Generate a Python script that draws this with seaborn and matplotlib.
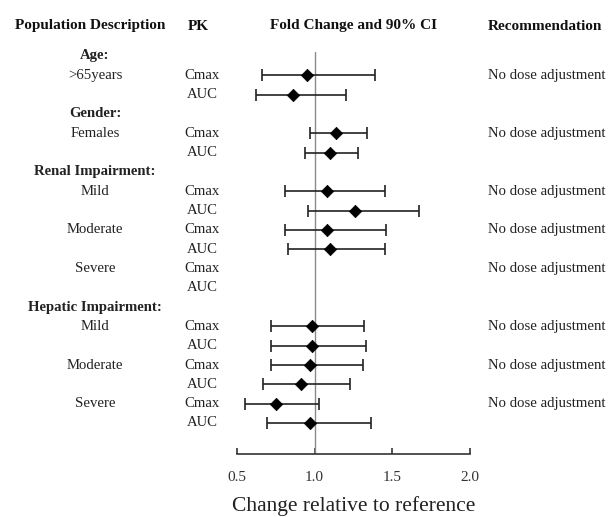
import numpy as np
import matplotlib
matplotlib.use("Agg")
import matplotlib.pyplot as plt
import matplotlib.transforms as mtransforms
import seaborn as sns

# Data
group_names = ["Age:", "Gender:", "Renal Impairment:", "Hepatic Impairment:"]
group_subgroups = [[">65years"], ["Females"], ["Mild", "Moderate", "Severe"], ["Mild", "Moderate", "Severe"]]
pk_params = ["Cmax", "AUC"]
fold_change = [0.95, 0.86, 1.14, 1.10, 1.08, 1.26, 1.08, 1.10, np.nan, np.nan,
               0.98, 0.98, 0.97, 0.91, 0.75, 0.97]
ci_lower = [0.66, 0.62, 0.97, 0.94, 0.81, 0.96, 0.81, 0.83, np.nan, np.nan,
            0.72, 0.72, 0.72, 0.67, 0.55, 0.69]
ci_upper = [1.39, 1.20, 1.34, 1.28, 1.45, 1.67, 1.46, 1.45, np.nan, np.nan,
            1.32, 1.33, 1.31, 1.23, 1.03, 1.36]
recommendations = ["No dose adjustment"] * 8
headers = ["Population Description", "PK", "Fold Change and 90% CI", "Recommendation"]
x_ticks = [0.5, 1.0, 1.5, 2.0]
x_label = "Change relative to reference"

# build row layout: group header row, then one row per PK parameter
group_rows, sub_rows, pk_rows, pk_names = [], [], [], []
row = 0
for g, subs in zip(group_names, group_subgroups):
    group_rows.append((row, g))
    row += 1
    for s in subs:
        sub_rows.append((row, s))
        for p in pk_params:
            pk_rows.append(row)
            pk_names.append(p)
            row += 1
pk_rows = np.array(pk_rows)
fold_change = np.array(fold_change)
ci_lower = np.array(ci_lower)
ci_upper = np.array(ci_upper)

sns.set_style("white")
plt.rcParams["font.family"] = ["Liberation Serif", "DejaVu Serif"]

fig = plt.figure(figsize=(6.16, 5.17), dpi=100)
W, H = 616, 517
ax = fig.add_axes([237 / W, 1 - 454 / H, (470 - 237) / W, (454 - 52) / H])

ax.axvline(1.0, color="#8a8a8a", lw=1.0, zorder=1)
ax.errorbar(fold_change, pk_rows, xerr=[fold_change - ci_lower, ci_upper - fold_change],
            fmt="none", ecolor="#222222", elinewidth=1.2, capsize=4, capthick=1.2, zorder=2)
sns.scatterplot(x=fold_change, y=pk_rows, marker="D", s=40, color="black",
                edgecolor="black", linewidth=0.5, ax=ax, zorder=3)

ax.set_xlim(0.5, 2.0)
ax.set_ylim(20.605, -0.207)
ax.set_yticks([])
ax.set_xticks(x_ticks)
ax.set_xticklabels([f"{t:.1f}" for t in x_ticks])
for side in ["top", "right", "left"]:
    ax.spines[side].set_visible(False)
ax.spines["bottom"].set_color("#333333")
ax.spines["bottom"].set_linewidth(1.2)
ax.tick_params(axis="x", direction="in", length=4.5, width=1.2, color="#333333",
               labelsize=11, labelcolor="#333333", pad=12, bottom=True)
ax.set_xlabel(x_label, fontsize=15.5, color="#222222", labelpad=9)

# text columns outside the axes
tr = mtransforms.blended_transform_factory(fig.transFigure, ax.transData)
for r, g in group_rows:
    ax.text(95 / W, r, g, transform=tr, ha="center", va="center", fontsize=10.6,
            fontweight="bold", color="#222222", clip_on=False)
for (r, s), rec in zip(sub_rows, recommendations):
    ax.text(95 / W, r, s, transform=tr, ha="center", va="center", fontsize=10.6,
            color="#222222", clip_on=False)
    ax.text(488 / W, r, rec, transform=tr, ha="left", va="center", fontsize=10.6,
            color="#222222", clip_on=False)
for r, p in zip(pk_rows, pk_names):
    ax.text(202 / W, r, p, transform=tr, ha="center", va="center", fontsize=10.6,
            color="#222222", clip_on=False)

header_x = [90 / W, 198 / W, 353 / W, 488 / W]
header_ha = ["center", "center", "center", "left"]
for hx, ha, h in zip(header_x, header_ha, headers):
    fig.text(hx, 1 - 29.5 / H, h, ha=ha, va="baseline", fontsize=11, fontweight="bold", color="#111111")

fig.savefig("out.png", dpi=100)
